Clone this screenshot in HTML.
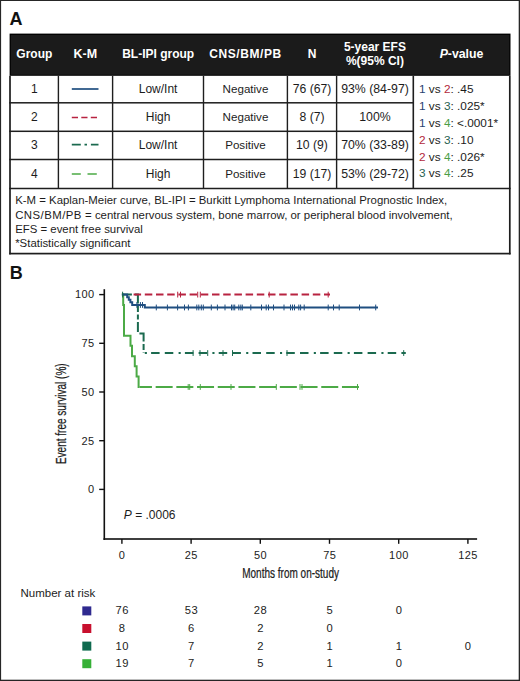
<!DOCTYPE html>
<html><head><meta charset="utf-8"><style>
html,body{margin:0;padding:0;background:#fff;}
body{width:520px;height:681px;position:relative;overflow:hidden;font-family:"Liberation Sans",sans-serif;}
</style></head><body>
<svg width="520" height="681" viewBox="0 0 520 681" style="position:absolute;left:0;top:0"><rect x="0" y="0" width="520" height="1" fill="#262626"/><rect x="0" y="0" width="1.1" height="681" fill="#262626"/><rect x="518.7" y="0" width="1.3" height="681" fill="#262626"/><rect x="0" y="679.7" width="520" height="1.3" fill="#262626"/><text x="9.6" y="24.8" font-family="Liberation Sans, sans-serif" font-size="18" font-weight="bold" fill="#111">A</text><text x="9.8" y="279" font-family="Liberation Sans, sans-serif" font-size="18" font-weight="bold" fill="#111">B</text><rect x="9.6" y="33.6" width="500.9" height="42.2" fill="#000"/><rect x="10.8" y="34.9" width="498.5" height="39.9" fill="#1b1b1b"/><rect x="9.15" y="75.8" width="1.7" height="178.60" fill="#1e1e1e"/><rect x="508.95" y="75.8" width="1.7" height="178.60" fill="#1e1e1e"/><rect x="9.2" y="102.05" width="404.60" height="1.5" fill="#1e1e1e"/><rect x="9.2" y="130.55" width="404.60" height="1.5" fill="#1e1e1e"/><rect x="9.2" y="158.75" width="404.60" height="1.5" fill="#1e1e1e"/><rect x="9.2" y="187.75" width="501.40" height="1.5" fill="#1e1e1e"/><rect x="9.2" y="252.75" width="501.40" height="1.7" fill="#1e1e1e"/><rect x="57.70" y="75.8" width="1.4" height="112.70" fill="#1e1e1e"/><rect x="111.90" y="75.8" width="1.4" height="112.70" fill="#1e1e1e"/><rect x="202.80" y="75.8" width="1.4" height="112.70" fill="#1e1e1e"/><rect x="286.70" y="75.8" width="1.4" height="112.70" fill="#1e1e1e"/><rect x="335.90" y="75.8" width="1.4" height="112.70" fill="#1e1e1e"/><rect x="412.50" y="75.8" width="1.6" height="112.70" fill="#1e1e1e"/><text x="34.3" y="57.8" font-family="Liberation Sans, sans-serif" font-size="12" font-weight="bold" fill="#ffffff" text-anchor="middle" >Group</text><text x="85.3" y="57.8" font-family="Liberation Sans, sans-serif" font-size="12.5" font-weight="bold" fill="#ffffff" text-anchor="middle" >K-M</text><text x="158.2" y="57.8" font-family="Liberation Sans, sans-serif" font-size="12" font-weight="bold" fill="#ffffff" text-anchor="middle" >BL-IPI group</text><text x="245.5" y="57.8" font-family="Liberation Sans, sans-serif" font-size="12" font-weight="bold" fill="#ffffff" text-anchor="middle" letter-spacing="0.6">CNS/BM/PB</text><text x="312.0" y="57.8" font-family="Liberation Sans, sans-serif" font-size="12" font-weight="bold" fill="#ffffff" text-anchor="middle" >N</text><text x="374.9" y="50.9" font-family="Liberation Sans, sans-serif" font-size="12" font-weight="bold" fill="#ffffff" text-anchor="middle" >5-year EFS</text><text x="374.9" y="65.2" font-family="Liberation Sans, sans-serif" font-size="12" font-weight="bold" fill="#ffffff" text-anchor="middle" >%(95% CI)</text><text x="461.5" y="57.8" font-family="Liberation Sans, sans-serif" font-size="12.3" font-weight="bold" fill="#ffffff" text-anchor="middle"><tspan font-style="italic">P</tspan>-value</text><text x="34.3" y="92.8" font-family="Liberation Sans, sans-serif" font-size="12" font-weight="normal" fill="#1c1c1c" text-anchor="middle" >1</text><text x="158.1" y="92.8" font-family="Liberation Sans, sans-serif" font-size="12" font-weight="normal" fill="#1c1c1c" text-anchor="middle" >Low/Int</text><text x="245.5" y="92.8" font-family="Liberation Sans, sans-serif" font-size="11.6" font-weight="normal" fill="#1c1c1c" text-anchor="middle" >Negative</text><text x="312.0" y="92.8" font-family="Liberation Sans, sans-serif" font-size="12.2" font-weight="normal" fill="#1c1c1c" text-anchor="middle" >76 (67)</text><text x="375.0" y="92.8" font-family="Liberation Sans, sans-serif" font-size="12.3" font-weight="normal" fill="#1c1c1c" text-anchor="middle" >93% (84-97)</text><text x="34.3" y="121.1" font-family="Liberation Sans, sans-serif" font-size="12" font-weight="normal" fill="#1c1c1c" text-anchor="middle" >2</text><text x="158.1" y="121.1" font-family="Liberation Sans, sans-serif" font-size="12" font-weight="normal" fill="#1c1c1c" text-anchor="middle" >High</text><text x="245.5" y="121.1" font-family="Liberation Sans, sans-serif" font-size="11.6" font-weight="normal" fill="#1c1c1c" text-anchor="middle" >Negative</text><text x="312.0" y="121.1" font-family="Liberation Sans, sans-serif" font-size="12.2" font-weight="normal" fill="#1c1c1c" text-anchor="middle" >8 (7)</text><text x="375.0" y="121.1" font-family="Liberation Sans, sans-serif" font-size="12.3" font-weight="normal" fill="#1c1c1c" text-anchor="middle" >100%</text><text x="34.3" y="149.4" font-family="Liberation Sans, sans-serif" font-size="12" font-weight="normal" fill="#1c1c1c" text-anchor="middle" >3</text><text x="158.1" y="149.4" font-family="Liberation Sans, sans-serif" font-size="12" font-weight="normal" fill="#1c1c1c" text-anchor="middle" >Low/Int</text><text x="245.5" y="149.4" font-family="Liberation Sans, sans-serif" font-size="11.6" font-weight="normal" fill="#1c1c1c" text-anchor="middle" >Positive</text><text x="312.0" y="149.4" font-family="Liberation Sans, sans-serif" font-size="12.2" font-weight="normal" fill="#1c1c1c" text-anchor="middle" >10 (9)</text><text x="375.0" y="149.4" font-family="Liberation Sans, sans-serif" font-size="12.3" font-weight="normal" fill="#1c1c1c" text-anchor="middle" >70% (33-89)</text><text x="34.3" y="177.6" font-family="Liberation Sans, sans-serif" font-size="12" font-weight="normal" fill="#1c1c1c" text-anchor="middle" >4</text><text x="158.1" y="177.6" font-family="Liberation Sans, sans-serif" font-size="12" font-weight="normal" fill="#1c1c1c" text-anchor="middle" >High</text><text x="245.5" y="177.6" font-family="Liberation Sans, sans-serif" font-size="11.6" font-weight="normal" fill="#1c1c1c" text-anchor="middle" >Positive</text><text x="312.0" y="177.6" font-family="Liberation Sans, sans-serif" font-size="12.2" font-weight="normal" fill="#1c1c1c" text-anchor="middle" >19 (17)</text><text x="375.0" y="177.6" font-family="Liberation Sans, sans-serif" font-size="12.3" font-weight="normal" fill="#1c1c1c" text-anchor="middle" >53% (29-72)</text><line x1="71.8" y1="89" x2="98.5" y2="89" stroke="#1f4e80" stroke-width="1.7"/><line x1="71.8" y1="117.5" x2="98" y2="117.5" stroke="#b82340" stroke-width="1.7" stroke-dasharray="6.2 3.3"/><line x1="71.8" y1="144.7" x2="98.5" y2="144.7" stroke="#1b6a4f" stroke-width="1.7" stroke-dasharray="9 3.7 2.5 3.9 8"/><line x1="71.8" y1="174" x2="97" y2="174" stroke="#4caa46" stroke-width="1.7" stroke-dasharray="9 6.7 9.3"/><text x="419" y="92.7" font-family="Liberation Sans, sans-serif" font-size="11.8" fill="#1c1c1c"><tspan fill="#2a4272">1</tspan> vs <tspan fill="#b32a3e">2</tspan>: .45</text><text x="419" y="109.6" font-family="Liberation Sans, sans-serif" font-size="11.8" fill="#1c1c1c"><tspan fill="#2a4272">1</tspan> vs <tspan fill="#285f52">3</tspan>: .025*</text><text x="419" y="126.5" font-family="Liberation Sans, sans-serif" font-size="11.8" fill="#1c1c1c"><tspan fill="#2a4272">1</tspan> vs <tspan fill="#4a9e47">4</tspan>: &lt;.0001*</text><text x="419" y="143.6" font-family="Liberation Sans, sans-serif" font-size="11.8" fill="#1c1c1c"><tspan fill="#b32a3e">2</tspan> vs <tspan fill="#285f52">3</tspan>: .10</text><text x="419" y="160.6" font-family="Liberation Sans, sans-serif" font-size="11.8" fill="#1c1c1c"><tspan fill="#b32a3e">2</tspan> vs <tspan fill="#4a9e47">4</tspan>: .026*</text><text x="419" y="177.4" font-family="Liberation Sans, sans-serif" font-size="11.8" fill="#1c1c1c"><tspan fill="#285f52">3</tspan> vs <tspan fill="#4a9e47">4</tspan>: .25</text><text x="15.2" y="204.2" font-family="Liberation Sans, sans-serif" font-size="11.4" font-weight="normal" fill="#1c1c1c" text-anchor="start" >K-M = Kaplan-Meier curve, BL-IPI = Burkitt Lymphoma International Prognostic Index,</text><text x="15.2" y="218.5" font-family="Liberation Sans, sans-serif" font-size="11.4" font-weight="normal" fill="#1c1c1c" text-anchor="start" ><tspan letter-spacing="0.45">CNS/BM/PB</tspan> = central nervous system, bone marrow, or peripheral blood involvement,</text><text x="15.2" y="232.7" font-family="Liberation Sans, sans-serif" font-size="11.4" font-weight="normal" fill="#1c1c1c" text-anchor="start" >EFS = event free survival</text><text x="15.2" y="246.9" font-family="Liberation Sans, sans-serif" font-size="11.4" font-weight="normal" fill="#1c1c1c" text-anchor="start" >*Statistically significant</text><rect x="103.5" y="289.2" width="1.6" height="250.8" fill="#111"/><rect x="103.5" y="538.2" width="373.6" height="1.6" fill="#111"/><rect x="99.2" y="293.90" width="5" height="1.4" fill="#111"/><text x="94.6" y="298.40000000000003" font-family="Liberation Sans, sans-serif" font-size="11" font-weight="normal" fill="#1c1c1c" text-anchor="end" letter-spacing="0.4">100</text><rect x="99.2" y="342.60" width="5" height="1.4" fill="#111"/><text x="94.6" y="347.09999999999997" font-family="Liberation Sans, sans-serif" font-size="11" font-weight="normal" fill="#1c1c1c" text-anchor="end" letter-spacing="0.4">75</text><rect x="99.2" y="391.30" width="5" height="1.4" fill="#111"/><text x="94.6" y="395.8" font-family="Liberation Sans, sans-serif" font-size="11" font-weight="normal" fill="#1c1c1c" text-anchor="end" letter-spacing="0.4">50</text><rect x="99.2" y="440.00" width="5" height="1.4" fill="#111"/><text x="94.6" y="444.5" font-family="Liberation Sans, sans-serif" font-size="11" font-weight="normal" fill="#1c1c1c" text-anchor="end" letter-spacing="0.4">25</text><rect x="99.2" y="488.70" width="5" height="1.4" fill="#111"/><text x="94.6" y="493.2" font-family="Liberation Sans, sans-serif" font-size="11" font-weight="normal" fill="#1c1c1c" text-anchor="end" letter-spacing="0.4">0</text><rect x="121.20" y="539" width="1.4" height="4.8" fill="#111"/><text x="122.10000000000001" y="558.7" font-family="Liberation Sans, sans-serif" font-size="11" font-weight="normal" fill="#1c1c1c" text-anchor="middle" letter-spacing="0.4">0</text><rect x="190.40" y="539" width="1.4" height="4.8" fill="#111"/><text x="191.3" y="558.7" font-family="Liberation Sans, sans-serif" font-size="11" font-weight="normal" fill="#1c1c1c" text-anchor="middle" letter-spacing="0.4">25</text><rect x="259.60" y="539" width="1.4" height="4.8" fill="#111"/><text x="260.5" y="558.7" font-family="Liberation Sans, sans-serif" font-size="11" font-weight="normal" fill="#1c1c1c" text-anchor="middle" letter-spacing="0.4">50</text><rect x="328.80" y="539" width="1.4" height="4.8" fill="#111"/><text x="329.7" y="558.7" font-family="Liberation Sans, sans-serif" font-size="11" font-weight="normal" fill="#1c1c1c" text-anchor="middle" letter-spacing="0.4">75</text><rect x="398.00" y="539" width="1.4" height="4.8" fill="#111"/><text x="398.90000000000003" y="558.7" font-family="Liberation Sans, sans-serif" font-size="11" font-weight="normal" fill="#1c1c1c" text-anchor="middle" letter-spacing="0.4">100</text><rect x="467.20" y="539" width="1.4" height="4.8" fill="#111"/><text x="468.1000000000001" y="558.7" font-family="Liberation Sans, sans-serif" font-size="11" font-weight="normal" fill="#1c1c1c" text-anchor="middle" letter-spacing="0.4">125</text><text transform="translate(65.8,413.7) rotate(-90) scale(0.668,1)" font-family="Liberation Sans, sans-serif" font-size="15" fill="#1c1c1c" stroke="#1c1c1c" stroke-width="0.25" text-anchor="middle">Event free survival (%)</text><text transform="translate(290.6,578.2) scale(0.668,1)" font-family="Liberation Sans, sans-serif" font-size="15" fill="#1c1c1c" stroke="#1c1c1c" stroke-width="0.25" text-anchor="middle">Months from on-study</text><text x="123.8" y="518.7" font-family="Liberation Sans, sans-serif" font-size="12" fill="#1c1c1c"><tspan font-style="italic">P</tspan> = .0006</text><path d="M121.90,294.60 L123.20,294.60 L123.20,304.92 L124.00,304.92 L124.00,335.70 L130.50,335.70 L130.50,345.83 L132.00,345.83 L132.00,356.16 L134.80,356.16 L134.80,366.29 L136.60,366.29 L136.60,376.61 L138.60,376.61 L138.60,386.94 L139.40,386.94" fill="none" stroke="#4caa46" stroke-width="2.0"/><path d="M139.40,386.94 L359.50,386.94" fill="none" stroke="#4caa46" stroke-width="2.0" stroke-dasharray="17 3.7" stroke-dashoffset="4.449999999999999"/><rect x="187.70" y="384.04" width="1.0" height="5.8" fill="#4caa46"/><rect x="189.20" y="384.04" width="1.0" height="5.8" fill="#4caa46"/><rect x="199.80" y="384.04" width="1.0" height="5.8" fill="#4caa46"/><rect x="230.50" y="384.04" width="1.0" height="5.8" fill="#4caa46"/><rect x="275.80" y="384.04" width="1.0" height="5.8" fill="#4caa46"/><rect x="299.50" y="384.04" width="1.0" height="5.8" fill="#4caa46"/><rect x="301.50" y="384.04" width="1.0" height="5.8" fill="#4caa46"/><rect x="357.00" y="384.04" width="1.0" height="5.8" fill="#4caa46"/><path d="M121.90,294.60 L137.90,294.60 L137.90,333.56 L143.60,333.56 L143.60,353.04" fill="none" stroke="#1b6a4f" stroke-width="2.0" stroke-dasharray="10 3 12 2.5 6 2.5 5 2.5" stroke-dashoffset="0"/><path d="M143.60,353.04 L405.80,353.04" fill="none" stroke="#1b6a4f" stroke-width="2.0" stroke-dasharray="2.1 4.2 8.5 5.2 8.5 5.3" stroke-dashoffset="32.599999999999966"/><rect x="192.60" y="350.14" width="1.0" height="5.8" fill="#1b6a4f"/><rect x="199.50" y="350.14" width="1.0" height="5.8" fill="#1b6a4f"/><rect x="207.20" y="350.14" width="1.0" height="5.8" fill="#1b6a4f"/><rect x="222.50" y="350.14" width="1.0" height="5.8" fill="#1b6a4f"/><rect x="232.00" y="350.14" width="1.0" height="5.8" fill="#1b6a4f"/><rect x="286.50" y="350.14" width="1.0" height="5.8" fill="#1b6a4f"/><rect x="403.20" y="350.14" width="1.0" height="5.8" fill="#1b6a4f"/><path d="M121.90,294.60 L127.20,294.60 L127.20,297.13 L128.80,297.13 L128.80,299.66 L130.40,299.66 L130.40,302.20 L132.20,302.20 L132.20,304.92 L144.80,304.92 L144.80,307.46 L378.00,307.46" fill="none" stroke="#1f4e80" stroke-width="2.0"/><rect x="136.40" y="302.02" width="1.0" height="5.8" fill="#1f4e80"/><rect x="139.90" y="302.02" width="1.0" height="5.8" fill="#1f4e80"/><rect x="142.00" y="302.02" width="1.0" height="5.8" fill="#1f4e80"/><rect x="155.80" y="304.56" width="1.0" height="5.8" fill="#1f4e80"/><rect x="166.90" y="304.56" width="1.0" height="5.8" fill="#1f4e80"/><rect x="177.10" y="304.56" width="1.0" height="5.8" fill="#1f4e80"/><rect x="184.00" y="304.56" width="1.0" height="5.8" fill="#1f4e80"/><rect x="187.90" y="304.56" width="1.0" height="5.8" fill="#1f4e80"/><rect x="196.30" y="304.56" width="1.0" height="5.8" fill="#1f4e80"/><rect x="198.30" y="304.56" width="1.0" height="5.8" fill="#1f4e80"/><rect x="200.80" y="304.56" width="1.0" height="5.8" fill="#1f4e80"/><rect x="202.80" y="304.56" width="1.0" height="5.8" fill="#1f4e80"/><rect x="210.80" y="304.56" width="1.0" height="5.8" fill="#1f4e80"/><rect x="216.90" y="304.56" width="1.0" height="5.8" fill="#1f4e80"/><rect x="224.50" y="304.56" width="1.0" height="5.8" fill="#1f4e80"/><rect x="231.00" y="304.56" width="1.0" height="5.8" fill="#1f4e80"/><rect x="232.60" y="304.56" width="1.0" height="5.8" fill="#1f4e80"/><rect x="234.20" y="304.56" width="1.0" height="5.8" fill="#1f4e80"/><rect x="238.30" y="304.56" width="1.0" height="5.8" fill="#1f4e80"/><rect x="240.30" y="304.56" width="1.0" height="5.8" fill="#1f4e80"/><rect x="241.80" y="304.56" width="1.0" height="5.8" fill="#1f4e80"/><rect x="250.30" y="304.56" width="1.0" height="5.8" fill="#1f4e80"/><rect x="261.00" y="304.56" width="1.0" height="5.8" fill="#1f4e80"/><rect x="265.70" y="304.56" width="1.0" height="5.8" fill="#1f4e80"/><rect x="268.00" y="304.56" width="1.0" height="5.8" fill="#1f4e80"/><rect x="273.00" y="304.56" width="1.0" height="5.8" fill="#1f4e80"/><rect x="283.50" y="304.56" width="1.0" height="5.8" fill="#1f4e80"/><rect x="290.00" y="304.56" width="1.0" height="5.8" fill="#1f4e80"/><rect x="292.00" y="304.56" width="1.0" height="5.8" fill="#1f4e80"/><rect x="294.00" y="304.56" width="1.0" height="5.8" fill="#1f4e80"/><rect x="298.30" y="304.56" width="1.0" height="5.8" fill="#1f4e80"/><rect x="300.10" y="304.56" width="1.0" height="5.8" fill="#1f4e80"/><rect x="303.70" y="304.56" width="1.0" height="5.8" fill="#1f4e80"/><rect x="327.70" y="304.56" width="1.0" height="5.8" fill="#1f4e80"/><rect x="333.00" y="304.56" width="1.0" height="5.8" fill="#1f4e80"/><rect x="338.70" y="304.56" width="1.0" height="5.8" fill="#1f4e80"/><rect x="359.00" y="304.56" width="1.0" height="5.8" fill="#1f4e80"/><rect x="375.20" y="304.56" width="1.0" height="5.8" fill="#1f4e80"/><path d="M132.50,294.60 L330.00,294.60" fill="none" stroke="#b82340" stroke-width="2.0" stroke-dasharray="7.5 3.7" stroke-dashoffset="10.099999999999987"/><rect x="177.20" y="291.70" width="1.0" height="5.8" fill="#b82340"/><rect x="180.00" y="291.70" width="1.0" height="5.8" fill="#b82340"/><rect x="197.20" y="291.70" width="1.0" height="5.8" fill="#b82340"/><rect x="199.80" y="291.70" width="1.0" height="5.8" fill="#b82340"/><rect x="268.70" y="291.70" width="1.0" height="5.8" fill="#b82340"/><rect x="327.70" y="291.70" width="1.0" height="5.8" fill="#b82340"/><rect x="122.10" y="291.70" width="1.0" height="5.8" fill="#1b6a4f"/><text x="20.5" y="596.7" font-family="Liberation Sans, sans-serif" font-size="11.5" font-weight="normal" fill="#1c1c1c" text-anchor="start" >Number at risk</text><rect x="82.3" y="606.4" width="9" height="9" fill="#2f2a8f"/><text x="122.2" y="614.3" font-family="Liberation Sans, sans-serif" font-size="11.2" font-weight="normal" fill="#1c1c1c" text-anchor="middle" letter-spacing="0.5">76</text><text x="191.40000000000003" y="614.3" font-family="Liberation Sans, sans-serif" font-size="11.2" font-weight="normal" fill="#1c1c1c" text-anchor="middle" letter-spacing="0.5">53</text><text x="260.6" y="614.3" font-family="Liberation Sans, sans-serif" font-size="11.2" font-weight="normal" fill="#1c1c1c" text-anchor="middle" letter-spacing="0.5">28</text><text x="329.8" y="614.3" font-family="Liberation Sans, sans-serif" font-size="11.2" font-weight="normal" fill="#1c1c1c" text-anchor="middle" letter-spacing="0.5">5</text><text x="399.00000000000006" y="614.3" font-family="Liberation Sans, sans-serif" font-size="11.2" font-weight="normal" fill="#1c1c1c" text-anchor="middle" letter-spacing="0.5">0</text><rect x="82.3" y="624.0" width="9" height="9" fill="#c8102e"/><text x="122.2" y="631.9" font-family="Liberation Sans, sans-serif" font-size="11.2" font-weight="normal" fill="#1c1c1c" text-anchor="middle" letter-spacing="0.5">8</text><text x="191.40000000000003" y="631.9" font-family="Liberation Sans, sans-serif" font-size="11.2" font-weight="normal" fill="#1c1c1c" text-anchor="middle" letter-spacing="0.5">6</text><text x="260.6" y="631.9" font-family="Liberation Sans, sans-serif" font-size="11.2" font-weight="normal" fill="#1c1c1c" text-anchor="middle" letter-spacing="0.5">2</text><text x="329.8" y="631.9" font-family="Liberation Sans, sans-serif" font-size="11.2" font-weight="normal" fill="#1c1c1c" text-anchor="middle" letter-spacing="0.5">0</text><rect x="82.3" y="641.6" width="9" height="9" fill="#0f6a4f"/><text x="122.2" y="649.5" font-family="Liberation Sans, sans-serif" font-size="11.2" font-weight="normal" fill="#1c1c1c" text-anchor="middle" letter-spacing="0.5">10</text><text x="191.40000000000003" y="649.5" font-family="Liberation Sans, sans-serif" font-size="11.2" font-weight="normal" fill="#1c1c1c" text-anchor="middle" letter-spacing="0.5">7</text><text x="260.6" y="649.5" font-family="Liberation Sans, sans-serif" font-size="11.2" font-weight="normal" fill="#1c1c1c" text-anchor="middle" letter-spacing="0.5">2</text><text x="329.8" y="649.5" font-family="Liberation Sans, sans-serif" font-size="11.2" font-weight="normal" fill="#1c1c1c" text-anchor="middle" letter-spacing="0.5">1</text><text x="399.00000000000006" y="649.5" font-family="Liberation Sans, sans-serif" font-size="11.2" font-weight="normal" fill="#1c1c1c" text-anchor="middle" letter-spacing="0.5">1</text><text x="468.2000000000001" y="649.5" font-family="Liberation Sans, sans-serif" font-size="11.2" font-weight="normal" fill="#1c1c1c" text-anchor="middle" letter-spacing="0.5">0</text><rect x="82.3" y="659.2" width="9" height="9" fill="#36b037"/><text x="122.2" y="667.1" font-family="Liberation Sans, sans-serif" font-size="11.2" font-weight="normal" fill="#1c1c1c" text-anchor="middle" letter-spacing="0.5">19</text><text x="191.40000000000003" y="667.1" font-family="Liberation Sans, sans-serif" font-size="11.2" font-weight="normal" fill="#1c1c1c" text-anchor="middle" letter-spacing="0.5">7</text><text x="260.6" y="667.1" font-family="Liberation Sans, sans-serif" font-size="11.2" font-weight="normal" fill="#1c1c1c" text-anchor="middle" letter-spacing="0.5">5</text><text x="329.8" y="667.1" font-family="Liberation Sans, sans-serif" font-size="11.2" font-weight="normal" fill="#1c1c1c" text-anchor="middle" letter-spacing="0.5">1</text><text x="399.00000000000006" y="667.1" font-family="Liberation Sans, sans-serif" font-size="11.2" font-weight="normal" fill="#1c1c1c" text-anchor="middle" letter-spacing="0.5">0</text></svg>
</body></html>
